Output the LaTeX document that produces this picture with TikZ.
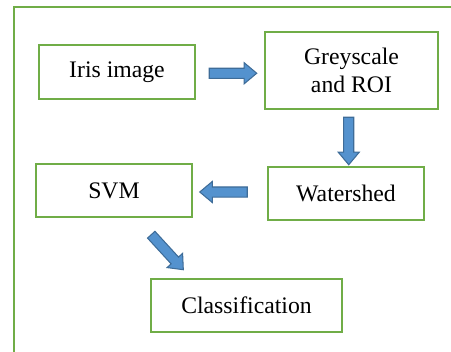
\documentclass[tikz,border=0pt]{standalone}
\usepackage{fontspec}
\setmainfont{Liberation Serif}
\usepackage{tikz}
\usetikzlibrary{shapes.arrows}
\usetikzlibrary{calc}
\definecolor{boxgreen}{RGB}{112,173,71}
\definecolor{arrowblue}{RGB}{84,146,206}
\definecolor{arrowedge}{RGB}{62,108,152}
\tikzstyle{stage} = [rectangle, minimum width = 3.13cm, minimum height=1.07cm, text centered, draw = boxgreen, line width=1.1pt, font=\fontsize{13.5}{15.8}\selectfont]
\tikzstyle{bigarrow} = [single arrow, draw = arrowedge, fill = arrowblue, line width=0.6pt, minimum height=0.95cm, minimum width=0.42cm, single arrow head extend=0.11cm, single arrow tip angle=80, inner xsep=0pt, inner ysep=0.09cm]
\tikzstyle{frame} = [draw = boxgreen, line width=0.9pt]

\begin{document}
\begin{tikzpicture}[node distance=2.5cm]
	\useasboundingbox (0,0) rectangle (9.02,-7.04);
	\draw [frame](0.28,-7.2)--(0.28,-0.14)--(9.2,-0.14);
	\node (IN) [stage] at (2.34,-1.44) {Iris image};
	\node (GS) [stage, right of=IN, xshift=2.19cm, yshift=0.03cm, minimum width=3.47cm, minimum height=1.55cm, align=center] {Greyscale\\and ROI};
	\node (WS) [stage, below of=GS, xshift=-0.11cm, yshift=0.04cm] {Watershed};
	\node (SVM) [stage, left of=WS, xshift=-2.14cm, yshift=0.06cm] {SVM};
	\node (CL) [stage, below of=SVM, xshift=2.65cm, yshift=0.2cm, minimum width=3.83cm] {Classification};
	% block arrows between the stages
	\node (A1) [bigarrow] at ($(IN.east)!0.5!(GS.west)+(0,-0.04)$) {};
	\node (A2) [bigarrow, rotate=-90] at ($(GS.south)!0.5!(WS.north)$) {};
	\node (A3) [bigarrow, rotate=180] at ($(WS.west)!0.5!(SVM.east)+(-0.07,0)$) {};
	\node (A4) [bigarrow, rotate=-47.5] at ($(SVM.south)!0.5!(CL.north)+(-0.3,-0.04)$) {};
\end{tikzpicture}
\end{document}
